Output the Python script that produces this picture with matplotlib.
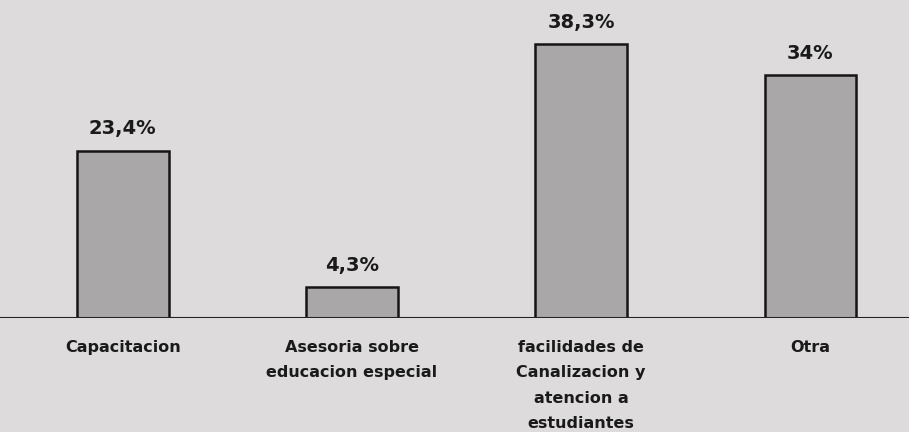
import matplotlib.pyplot as plt

# Data
categorias = ['Capacitacion', 'Asesoria sobre\neducacion especial',
              'facilidades de\nCanalizacion y\natencion a\nestudiantes', 'Otra']
valores = [23.4, 4.3, 38.3, 34]
etiquetas = ['23,4%', '4,3%', '38,3%', '34%']

bg = '#dddbdc'
fig = plt.figure(figsize=(9.09, 4.32), dpi=100, facecolor=bg)
ax = fig.add_axes([0, 0.264, 1, 0.736])
ax.set_facecolor(bg)

x = range(len(valores))
ax.bar(x, valores, width=0.4, color='#a9a7a8', edgecolor='#151515', linewidth=1.8, zorder=2)

# Value labels above bars
for xi, v, t in zip(x, valores, etiquetas):
    ax.annotate(t, (xi, v), xytext=(0, 9), textcoords='offset points',
                ha='center', va='bottom', fontsize=14, fontweight='bold', color='#1a1a1a')

# Category labels below the baseline
for xi, c in zip(x, categorias):
    ax.annotate(c, (xi, 0), xytext=(0, -16), textcoords='offset points',
                ha='center', va='top', fontsize=11.5, fontweight='bold',
                color='#1a1a1a', linespacing=1.85, annotation_clip=False)

ax.axhline(0, color='#222222', linewidth=1.5, zorder=3)
ax.set_xlim(-0.535, 3.43)
ax.set_ylim(0, 44.5)
ax.axis('off')

plt.savefig('out.png', dpi=100, facecolor=bg)
